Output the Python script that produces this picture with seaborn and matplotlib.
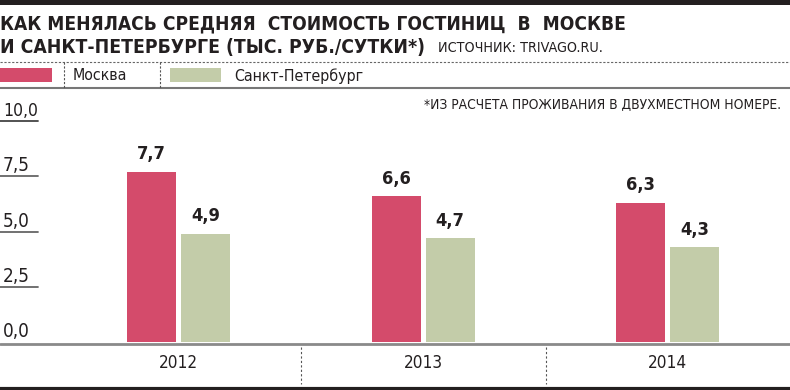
import matplotlib
matplotlib.use("Agg")
import matplotlib.pyplot as plt
import seaborn as sns
import pandas as pd
from matplotlib.patches import Rectangle
from matplotlib import font_manager as fm

# ---- data ----
years = ["2012", "2013", "2014"]
cities = ["Москва", "Санкт-Петербург"]
moscow = [7.7, 6.6, 6.3]
spb = [4.9, 4.7, 4.3]
yticks = [0.0, 2.5, 5.0, 7.5, 10.0]
title1 = "КАК МЕНЯЛАСЬ СРЕДНЯЯ  СТОИМОСТЬ ГОСТИНИЦ  В  МОСКВЕ"
title2 = "И САНКТ-ПЕТЕРБУРГЕ (ТЫС. РУБ./СУТКИ*)"
source = "ИСТОЧНИК: TRIVAGO.RU."
footnote = "*ИЗ РАСЧЕТА ПРОЖИВАНИЯ В ДВУХМЕСТНОМ НОМЕРЕ."
colors = ["#d44b6b", "#c3cca9"]

df = pd.DataFrame({
    "year": years * 2,
    "city": [cities[0]] * 3 + [cities[1]] * 3,
    "value": moscow + spb,
})

sns.set_theme(style="white")
plt.rcParams["font.family"] = ["DejaVu Sans"]


# ---- pick a condensed font if one is installed ----
def pick_fonts():
    entries = fm.fontManager.ttflist
    def is_cond(f):
        s = str(f.stretch).lower()
        n = (f.name + " " + f.fname).lower()
        return ("condensed" in s or "narrow" in n or "condensed" in n) and "extra" not in s \
            and "ultra" not in s and "semi" not in n and "semi" not in s
    def is_bold(f):
        w = f.weight
        try:
            return int(w) >= 600
        except Exception:
            return str(w).lower() in ("bold", "heavy", "black", "demibold", "semibold", "extra bold")
    def is_italic(f):
        return str(f.style).lower() != "normal"
    prefs = ["Liberation Sans Narrow", "DejaVu Sans", "Roboto Condensed", "Roboto",
             "Noto Sans", "Open Sans", "Arial Narrow"]
    for p in prefs:
        cand = [f for f in entries if f.name.startswith(p) and is_cond(f) and not is_italic(f)]
        reg = [f for f in cand if not is_bold(f)]
        bold = [f for f in cand if is_bold(f)]
        if reg and bold:
            reg.sort(key=lambda f: abs(int(f.weight) - 400) if str(f.weight).isdigit() else 0)
            bold.sort(key=lambda f: -int(f.weight) if str(f.weight).isdigit() else 0)
            return reg[0].fname, bold[0].fname
    reg = fm.findfont(fm.FontProperties(family="DejaVu Sans"))
    bold = fm.findfont(fm.FontProperties(family="DejaVu Sans", weight="bold"))
    return reg, bold


REG, BOLD = pick_fonts()


def fp(bold=False, size=10):
    return fm.FontProperties(fname=BOLD if bold else REG, size=size)


W, H = 790, 390
fig = plt.figure(figsize=(W / 100, H / 100), dpi=100)

ov = fig.add_axes([0, 0, 1, 1])
ov.set_xlim(0, W)
ov.set_ylim(H, 0)
ov.axis("off")

y0, y10 = 342, 121
ax = fig.add_axes([0, (H - y0) / H, 1, (y0 - y10) / H])
sns.barplot(data=df, x="year", y="value", hue="city", order=years,
            hue_order=cities, palette=colors, width=0.441, gap=0.093,
            saturation=1, legend=False, ax=ax, edgecolor="none", linewidth=0)
ax.set_ylim(0, 10)
ax.set_xlim(-0.7295, 2.499)
for s in ax.spines.values():
    s.set_visible(False)
ax.set_xlabel("")
ax.set_ylabel("")
ax.set_yticks([])
ax.set_xticks(range(len(years)))
ax.set_xticklabels(years, fontproperties=fp(False, 13), color="#231f20")
ax.tick_params(axis="x", length=0, pad=9)
ax.patch.set_alpha(0)

fit_items = []  # (text, target width px, max size)

value_texts = []
for cont in ax.containers:
    ts = ax.bar_label(cont, labels=[f"{v:.1f}".replace(".", ",") for v in cont.datavalues],
                      padding=6, fontproperties=fp(True, 15), color="#231f20")
    value_texts += ts
for t in value_texts:
    fit_items.append((t, 29, 15.5))

ytr = ax.get_yaxis_transform()
for v in yticks:
    if v > 0:
        ax.plot([0, 38 / W], [v, v], transform=ytr,
                color="#444444" if v == 10 else "#666666", lw=1.3, clip_on=False)
    t = ax.text(3 / W, v + 0.22, f"{v:.1f}".replace(".", ","), transform=ytr,
                ha="left", va="baseline", fontproperties=fp(False, 14), color="#231f20")
    fit_items.append((t, 35 if v == 10 else 27, 14))

for t in ax.get_xticklabels():
    fit_items.append((t, 39, 13))

ov.plot([0, W], [344, 344], color="#8a8a8a", lw=2)
xtr = ax.get_xaxis_transform()
for xd in [0.5, 1.5]:
    ax.plot([xd, xd], [-(347 - y0) / (y0 - y10), -(384 - y0) / (y0 - y10)],
            transform=xtr, color="#555555", lw=0.8, ls=(0, (2, 2)), clip_on=False)
ov.plot([0, W], [388.5, 388.5], color="#231f20", lw=3)

# header
ov.add_patch(Rectangle((0, 0), W, 5, color="#231f20", lw=0))
t1 = ov.text(0, 24, title1, ha="left", va="center", fontproperties=fp(True, 15.5),
             color="#231f20")
t2 = ov.text(0, 47, title2, ha="left", va="center", fontproperties=fp(True, 15.5),
             color="#231f20")
t3 = ov.text(438, 47.5, source, ha="left", va="center", fontproperties=fp(False, 11),
             color="#231f20")
fit_items += [(t1, 620, 15.5), (t2, 423, 15.5), (t3, 165, 11)]
ov.plot([0, W], [62, 62], color="#666666", lw=0.8, ls=(0, (2, 1.5)))
ov.plot([0, W], [88, 88], color="#777777", lw=1.5)

ov.add_patch(Rectangle((0, 68), 52, 14, color=colors[0], lw=0))
ov.plot([64, 64], [62, 88], color="#555555", lw=0.8, ls=(0, (2, 1.5)))
l1 = ov.text(73, 76, cities[0], ha="left", va="center", fontproperties=fp(False, 12),
             color="#231f20")
ov.plot([160, 160], [62, 88], color="#555555", lw=0.8, ls=(0, (2, 1.5)))
ov.add_patch(Rectangle((170, 68), 51, 14, color=colors[1], lw=0))
l2 = ov.text(234, 76, cities[1], ha="left", va="center", fontproperties=fp(False, 12),
             color="#231f20")
fn = ov.text(781, 104, footnote, ha="right", va="center", fontproperties=fp(False, 11.5),
             color="#231f20")
fit_items += [(l1, 55, 12), (l2, 130, 12), (fn, 356, 11.5)]

# fit text widths to the reference's measured extents
fig.canvas.draw()
r = fig.canvas.get_renderer()
for t, target, mx in fit_items:
    w = t.get_window_extent(r).width
    if w > 0:
        t.set_fontsize(min(mx, t.get_fontsize() * target / w))

fig.savefig("out.png", dpi=100)
